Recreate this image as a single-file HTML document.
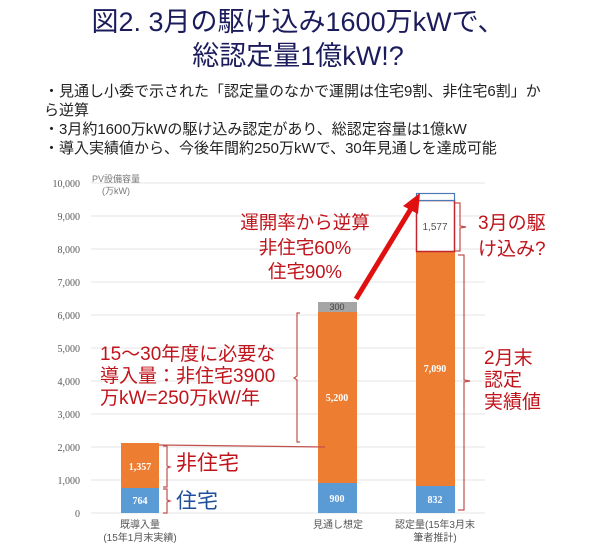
<!DOCTYPE html>
<html><head><meta charset="utf-8"><style>
body{margin:0;background:#fff;}
svg{display:block;font-family:"Liberation Sans","Noto Sans CJK JP",sans-serif;}
</style></head><body>
<svg width="600" height="555" viewBox="0 0 600 555" xmlns="http://www.w3.org/2000/svg">
<rect width="600" height="555" fill="#fff"/>
<g fill="#1c1c5c" font-size="27" text-anchor="middle">
<text x="298" y="31">図2. 3月の駆け込み1600万kWで、</text>
<text x="298" y="65">総認定量1億kW!?</text>
</g>
<g fill="#222" font-size="15">
<text x="44" y="96">・見通し小委で示された「認定量のなかで運開は住宅9割、非住宅6割」か</text>
<text x="44" y="115">ら逆算</text>
<text x="44" y="134">・3月約1600万kWの駆け込み認定があり、総認定容量は1億kW</text>
<text x="44" y="153">・導入実績値から、今後年間約250万kWで、30年見通しを達成可能</text>
</g>
<g stroke="#e4e4e4" stroke-width="1">
<line x1="91" x2="485" y1="183" y2="183"/><line x1="91" x2="485" y1="216" y2="216"/>
<line x1="91" x2="485" y1="249" y2="249"/><line x1="91" x2="485" y1="282" y2="282"/>
<line x1="91" x2="485" y1="315" y2="315"/><line x1="91" x2="485" y1="348" y2="348"/>
<line x1="91" x2="485" y1="381" y2="381"/><line x1="91" x2="485" y1="414" y2="414"/>
<line x1="91" x2="485" y1="447" y2="447"/><line x1="91" x2="485" y1="480" y2="480"/>
<line x1="91" x2="485" y1="513" y2="513"/>
</g>
<g fill="#595959" font-size="10" text-anchor="end" font-family="Liberation Serif, serif">
<text x="80" y="187">10,000</text><text x="80" y="220">9,000</text><text x="80" y="253">8,000</text>
<text x="80" y="286">7,000</text><text x="80" y="319">6,000</text><text x="80" y="352">5,000</text>
<text x="80" y="385">4,000</text><text x="80" y="418">3,000</text><text x="80" y="451">2,000</text>
<text x="80" y="484">1,000</text><text x="80" y="517">0</text>
</g>
<g fill="#777" font-size="9"><text x="92" y="182">PV設備容量</text><text x="102" y="194">(万kW)</text></g>
<rect x="121" y="488" width="38" height="25" fill="#5b9bd5"/>
<rect x="121" y="443" width="38" height="45" fill="#ed7d31"/>
<rect x="318" y="483" width="39" height="30" fill="#5b9bd5"/>
<rect x="318" y="312" width="39" height="171" fill="#ed7d31"/>
<rect x="318" y="302" width="39" height="10" fill="#a5a5a5"/>
<rect x="416" y="486" width="39" height="27" fill="#5b9bd5"/>
<rect x="416" y="252" width="39" height="234" fill="#ed7d31"/>
<rect x="416.5" y="200.5" width="38" height="51" fill="#fff" stroke="#c0272d" stroke-width="1.5"/>
<rect x="416.5" y="193.5" width="38" height="7" fill="#fff" stroke="#4a7ab5" stroke-width="1.2"/>
<g font-size="10" font-weight="bold" fill="#fff" text-anchor="middle" font-family="Liberation Serif, serif">
<text x="140" y="504">764</text><text x="140" y="470">1,357</text>
<text x="337" y="502">900</text><text x="337" y="401">5,200</text>
<text x="435" y="503">832</text><text x="435" y="372">7,090</text>
</g>
<text x="337" y="310" font-size="9" fill="#444" text-anchor="middle">300</text>
<text x="435" y="230" font-size="10" fill="#555" text-anchor="middle">1,577</text>
<g fill="#555" font-size="10" text-anchor="middle">
<text x="140" y="528">既導入量</text><text x="140" y="541">(15年1月末実績)</text>
<text x="338" y="528">見通し想定</text>
<text x="435" y="528">認定量(15年3月末</text><text x="435" y="541">筆者推計)</text>
</g>
<g fill="none" stroke="#c0504d" stroke-width="1.2">
<path d="M300 313 H297 V376 L294 378 L297 380 V442 H300"/>
<line x1="159" y1="445" x2="325" y2="447"/>
<path d="M163 446 H167 V466 L170 467 L167 468 V487 H163"/>
<path d="M163 489 H167 V500 L170 501 L167 502 V513 H163"/>
<path d="M455 203 H460 V226 L466 227 L460 228 V251 H455"/>
<path d="M458 255 H464 V380 L470 381 L464 382 V510 H458"/>
</g>
<line x1="356" y1="299" x2="412" y2="207" stroke="#e01010" stroke-width="5"/>
<polygon points="420,193 403,206 418,214" fill="#e01010"/>
<g fill="#c0141b" font-size="18.5" text-anchor="middle">
<text x="305" y="229">運開率から逆算</text>
<text x="305" y="254">非住宅60%</text>
<text x="305" y="278">住宅90%</text>
</g>
<g fill="#c0141b" font-size="19">
<text x="478" y="229">3月の駆</text>
<text x="478" y="255">け込み?</text>
<text x="100" y="360">15～30年度に必要な</text>
<text x="100" y="382">導入量：非住宅3900</text>
<text x="100" y="404">万kW=250万kW/年</text>
<text x="484" y="364">2月末</text>
<text x="484" y="386">認定</text>
<text x="484" y="408">実績値</text>
<text x="176" y="470" font-size="21">非住宅</text>
</g>
<text x="176" y="508" font-size="21" fill="#1f4e9a">住宅</text>
</svg>
</body></html>
